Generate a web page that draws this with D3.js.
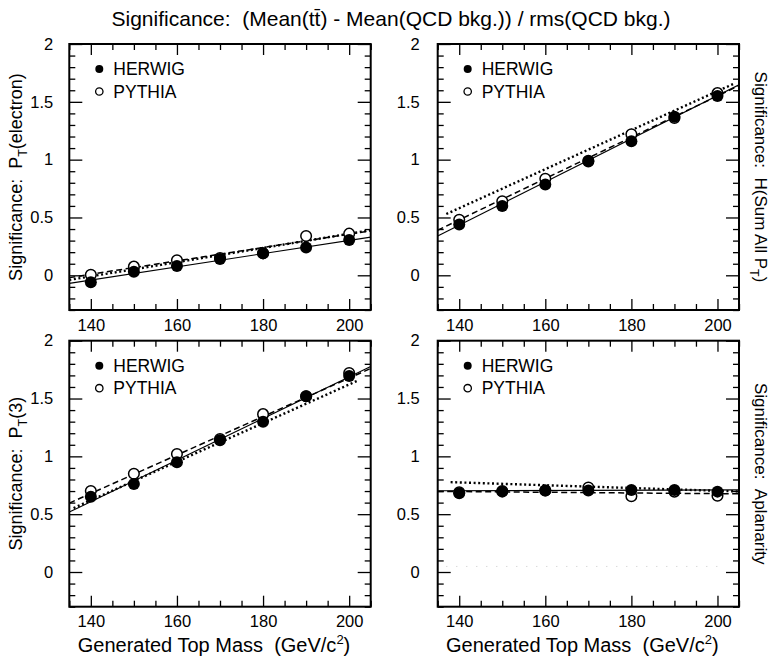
<!DOCTYPE html>
<html>
<head>
<meta charset="utf-8">
<script src="https://cdn.jsdelivr.net/npm/d3@7"></script>
<style>
  body { margin: 0; background: #fff; }
  svg { display: block; font-family: "Liberation Sans", Arial, Helvetica, sans-serif; }
</style>
</head>
<body>
<div id="chart"></div>
<script>
// generated top mass (GeV/c^2)
const masses = [140, 150, 160, 170, 180, 190, 200];

// significance per variable
const herwigPtElectron = [-0.06, 0.03, 0.08, 0.14, 0.19, 0.24, 0.305];
const pythiaPtElectron = [0.005, 0.075, 0.13, 0.15, 0.19, 0.34, 0.36];
const herwigHSumPt = [0.44, 0.60, 0.785, 0.985, 1.16, 1.37, 1.55];
const pythiaHSumPt = [0.48, 0.64, 0.835, 0.99, 1.22, 1.36, 1.575];
const herwigPt3 = [0.65, 0.76, 0.95, 1.14, 1.30, 1.52, 1.695];
const pythiaPt3 = [0.70, 0.85, 1.02, 1.15, 1.365, 1.52, 1.72];
const herwigAplanarity = [0.68, 0.695, 0.705, 0.705, 0.71, 0.71, 0.695];
const pythiaAplanarity = [0.69, 0.70, 0.705, 0.73, 0.655, 0.695, 0.66];

// fit lines: [[mass0, sig0], [mass1, sig1]]
const fitsPtElectron = {
  solid: [[135, -0.07], [205, 0.33]],
  dashed: [[135, -0.02], [205, 0.385]],
  dotted: [[135, -0.04], [205, 0.39]]
};
const fitsHSumPt = {
  solid: [[135, 0.34], [205, 1.647]],
  dashed: [[135, 0.39], [205, 1.64]],
  dotted: [[137, 0.53], [204, 1.66]]
};
const fitsPt3 = {
  solid: [[135, 0.518], [205, 1.776]],
  dashed: [[135, 0.596], [205, 1.76]],
  dotted: [[136, 0.553], [202, 1.655]]
};
const fitsAplanarity = {
  solid: [[135, 0.702], [205, 0.71]],
  dashed: [[135, 0.697], [205, 0.676]],
  dotted: [[138, 0.777], [205, 0.696]],
  faint: [[137, 0.048], [200, 0.048]]
};

const xMajor = [140, 160, 180, 200];
const yMajor = [0, 0.5, 1, 1.5, 2];
const yTickLabels = ["0", "0.5", "1", "1.5", "2"];

const width = 773, height = 656;

const svg = d3.select("#chart").append("svg")
    .attr("width", width)
    .attr("height", height);

// title, with the bar over the second t
const title = svg.append("text")
    .attr("x", 391)
    .attr("y", 26)
    .attr("text-anchor", "middle")
    .attr("font-size", 21)
    .text("Significance:\u00a0\u00a0(Mean(t");
title.append("tspan").text("t\u0304");
title.append("tspan").text(") - Mean(QCD bkg.)) / rms(QCD bkg.)");

const panels = [
  {id: "ptel", herwig: herwigPtElectron, pythia: pythiaPtElectron, fits: fitsPtElectron,
   left: 69.3, right: 370.7, top: 44, bottom: 310, label: ["Significance:\u00a0\u00a0P", "T", "(electron)"], side: "left"},
  {id: "hsum", herwig: herwigHSumPt, pythia: pythiaHSumPt, fits: fitsHSumPt,
   left: 437.7, right: 739, top: 44, bottom: 310, label: ["Significance:\u00a0\u00a0H(Sum All P", "T", ")"], side: "right"},
  {id: "pt3", herwig: herwigPt3, pythia: pythiaPt3, fits: fitsPt3,
   left: 69.3, right: 370.7, top: 340.7, bottom: 606.7, label: ["Significance:\u00a0\u00a0P", "T", "(3)"], side: "left", xlabel: true},
  {id: "apl", herwig: herwigAplanarity, pythia: pythiaAplanarity, fits: fitsAplanarity,
   left: 437.7, right: 739, top: 340.7, bottom: 606.7, label: ["Significance:\u00a0\u00a0Aplanarity"], side: "right", xlabel: true}
];

const lineStyles = {
  solid: {w: 1.1, dash: null, color: "#000"},
  dashed: {w: 1.5, dash: "6,3.5", color: "#000"},
  dotted: {w: 2.4, dash: "2,2.6", color: "#000"},
  faint: {w: 1, dash: "1,9", color: "#c8c8c8"}
};

panels.forEach(p => drawPanel(p));

function drawPanel(p) {
  const x = d3.scaleLinear().domain([135, 205]).range([p.left, p.right]);
  const y = d3.scaleLinear().domain([-0.3, 2]).range([p.bottom, p.top]);
  const g = svg.append("g");

  g.append("clipPath").attr("id", "clip-" + p.id)
    .append("rect")
      .attr("x", p.left).attr("y", p.top)
      .attr("width", p.right - p.left).attr("height", p.bottom - p.top);

  const xMinor = d3.range(135, 206, 5).filter(v => !xMajor.includes(v));
  const yMinor = d3.range(-3, 21).map(v => v / 10).filter(v => !yMajor.includes(v));

  // inward ticks on all four sides
  const tickAxis = (axis, scale, values, size, transform) => g.append("g")
      .attr("transform", transform)
      .call(axis(scale).tickValues(values).tickSize(-size).tickFormat(""))
      .call(a => a.select(".domain").remove())
      .call(a => a.selectAll("line").attr("stroke-width", 1.3));

  tickAxis(d3.axisBottom, x, xMajor, 11, `translate(0,${p.bottom})`);
  tickAxis(d3.axisBottom, x, xMinor, 6, `translate(0,${p.bottom})`);
  tickAxis(d3.axisTop, x, xMajor, 11, `translate(0,${p.top})`);
  tickAxis(d3.axisTop, x, xMinor, 6, `translate(0,${p.top})`);
  tickAxis(d3.axisLeft, y, yMajor, 13, `translate(${p.left},0)`);
  tickAxis(d3.axisLeft, y, yMinor, 6, `translate(${p.left},0)`);
  tickAxis(d3.axisRight, y, yMajor, 13, `translate(${p.right},0)`);
  tickAxis(d3.axisRight, y, yMinor, 6, `translate(${p.right},0)`);

  // tick labels
  g.append("g")
      .attr("transform", `translate(0,${p.bottom})`)
      .call(d3.axisBottom(x).tickValues(xMajor).tickSize(0).tickPadding(9))
      .call(a => a.select(".domain").remove())
      .call(a => a.selectAll("text").attr("font-size", 16.5).attr("font-family", null).attr("fill", "#000"));

  g.append("g")
      .attr("transform", `translate(${p.left},0)`)
      .call(d3.axisLeft(y).tickValues(yMajor).tickSize(0).tickPadding(p.side === "left" ? 16 : 18)
        .tickFormat((d, i) => yTickLabels[i]))
      .call(a => a.select(".domain").remove())
      .call(a => a.selectAll("text").attr("font-size", 16.5).attr("font-family", null).attr("fill", "#000"));

  // fit lines
  const line = d3.line().x(d => x(d[0])).y(d => y(d[1]));
  const plot = g.append("g").attr("clip-path", `url(#clip-${p.id})`);
  Object.keys(p.fits).forEach(k => {
    const s = lineStyles[k];
    plot.append("path")
        .attr("d", line(p.fits[k]))
        .attr("fill", "none")
        .attr("stroke", s.color)
        .attr("stroke-width", s.w)
        .attr("stroke-dasharray", s.dash);
  });

  // markers: open PYTHIA under filled HERWIG
  plot.append("g").selectAll("circle")
    .data(masses)
    .join("circle")
      .attr("cx", d => x(d))
      .attr("cy", (d, i) => y(p.pythia[i]))
      .attr("r", 5.3)
      .attr("fill", "#fff")
      .attr("stroke", "#000")
      .attr("stroke-width", 1.5);

  plot.append("g").selectAll("circle")
    .data(masses)
    .join("circle")
      .attr("cx", d => x(d))
      .attr("cy", (d, i) => y(p.herwig[i]))
      .attr("r", 6)
      .attr("fill", "#000");

  // frame
  g.append("rect")
      .attr("x", p.left).attr("y", p.top)
      .attr("width", p.right - p.left).attr("height", p.bottom - p.top)
      .attr("fill", "none")
      .attr("stroke", "#000")
      .attr("stroke-width", 2);

  // legend
  const lg = g.append("g").attr("transform", `translate(${p.left + 30},${p.top + 25})`);
  lg.append("circle").attr("cx", 0).attr("cy", 0).attr("r", 4).attr("fill", "#000");
  lg.append("circle").attr("cx", 0).attr("cy", 22.5).attr("r", 3.7)
      .attr("fill", "#fff").attr("stroke", "#000").attr("stroke-width", 1.3);
  lg.append("text").attr("x", 14).attr("y", 6).attr("font-size", 17.5).text("HERWIG");
  lg.append("text").attr("x", 14).attr("y", 28.5).attr("font-size", 17.5).text("PYTHIA");

  // side label
  const cy = (p.top + p.bottom) / 2;
  const lx = p.side === "left" ? 22 : 755;
  const rot = p.side === "left" ? -90 : 90;
  const t = g.append("text")
      .attr("transform", `translate(${lx},${cy}) rotate(${rot})`)
      .attr("text-anchor", "middle")
      .attr("font-size", p.side === "left" ? 18 : 17);
  t.append("tspan").text(p.label[0]);
  if (p.label.length > 1) {
    t.append("tspan").attr("dy", 5).attr("font-size", 12.5).text(p.label[1]);
    t.append("tspan").attr("dy", -5).text(p.label[2]);
  }

  if (p.xlabel) {
    const xl = g.append("text")
        .attr("x", (p.left + p.right) / 2 - 6)
        .attr("y", 652)
        .attr("text-anchor", "middle")
        .attr("font-size", 20)
        .text("Generated Top Mass\u00a0\u00a0(GeV/c");
    xl.append("tspan").attr("dy", -8).attr("font-size", 13).text("2");
    xl.append("tspan").attr("dy", 8).text(")");
  }
}
</script>
</body>
</html>
